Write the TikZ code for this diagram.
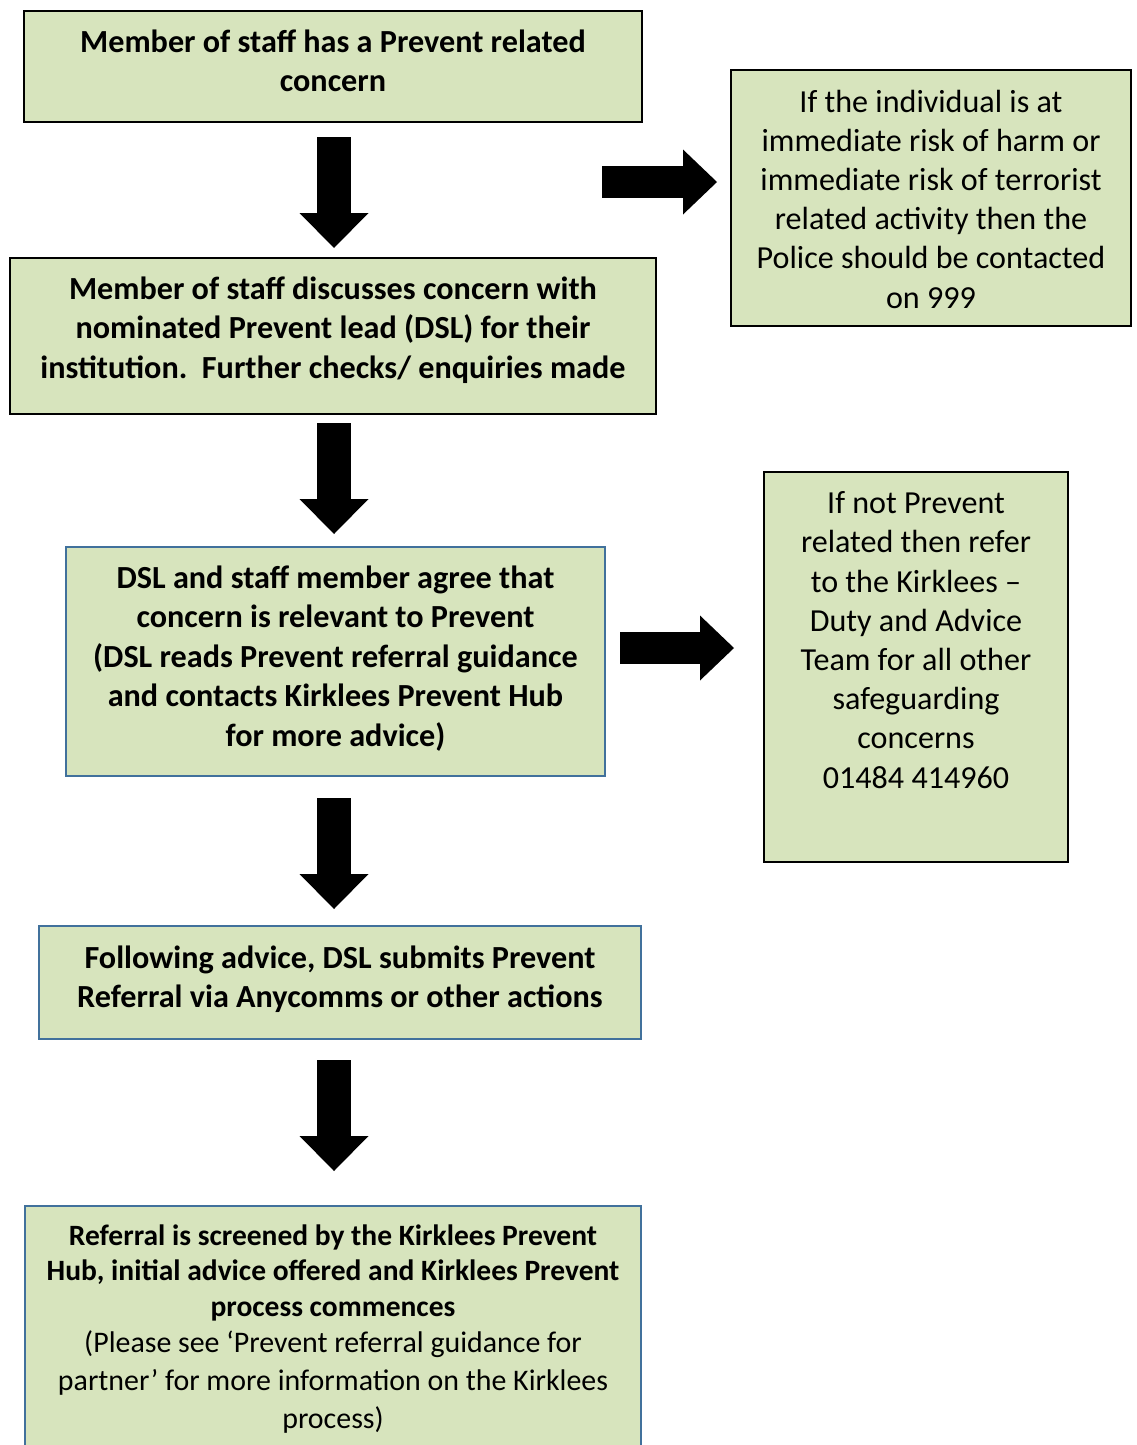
\documentclass[tikz,border=0pt]{standalone}
\usepackage{fontspec}
\setmainfont{Carlito}
\usetikzlibrary{arrows.meta}
\definecolor{boxgreen}{HTML}{D7E4BD}
\definecolor{boxblue}{HTML}{41719C}
\begin{document}
\begin{tikzpicture}[x=1pt,y=-1pt,
  box/.style={draw=black, fill=boxgreen, line width=1.2pt, inner sep=0pt},
  bluebox/.style={box, draw=boxblue},
  txt/.style={inner sep=0pt, align=center},
  bigb/.style={txt, font=\fontsize{32.2}{39.4}\selectfont\bfseries},
  bigr/.style={txt, font=\fontsize{32.1}{39.2}\selectfont},
  blockdown/.style={line width=34pt, -{Triangle[length=35pt,width=69pt,line width=0pt]}},
  blockright/.style={line width=32pt, -{Triangle[length=34pt,width=65pt,line width=0pt]}}
]
\useasboundingbox (0,0) rectangle (1136,1445);
\clip (0,0) rectangle (1136,1445);
\fill[white] (0,0) rectangle (1136,1445);

% main column boxes
\node[box, minimum width=618pt, minimum height=111pt] (b1) at (333,66.5) {};
\node[box, minimum width=646pt, minimum height=156pt] (b2) at (333,336) {};
\node[bluebox, minimum width=539pt, minimum height=229pt] (b3) at (335.5,661.5) {};
\node[bluebox, minimum width=602pt, minimum height=113pt] (b4) at (340,982.5) {};
\node[bluebox, minimum width=616pt, minimum height=259pt] (b5) at (333,1335.5) {};
% side boxes
\node[box, minimum width=400pt, minimum height=256pt] (r1) at (931,198) {};
\node[box, minimum width=304pt, minimum height=390pt] (r2) at (916,667) {};

% texts
\node[bigb] (b1t) at (333,61)
  {Member of staff has a Prevent related\\concern};
\node[bigb] (b2t) at (333,330)
  {Member of staff discusses concern with\\nominated Prevent lead (DSL) for their\\institution.\ \ Further checks/ enquiries made};
\node[bigb] (b3t) at (335.5,658.5)
  {DSL and staff member agree that\\concern is relevant to Prevent\\(DSL reads Prevent referral guidance\\and contacts Kirklees Prevent Hub\\for more advice)};
\node[bigb] (b4t) at (340,979.5)
  {Following advice, DSL submits Prevent\\Referral via Anycomms or other actions};
\node[txt, font=\fontsize{29.5}{35.5}\selectfont\bfseries] (b5a) at (333,1272.5)
  {Referral is screened by the Kirklees Prevent\\Hub, initial advice offered and Kirklees Prevent\\process commences};
\node[txt, font=\fontsize{29.9}{38}\selectfont] (b5b) at (333,1382)
  {(Please see ‘Prevent referral guidance for\\partner’ for more information on the Kirklees\\process)};
\node[bigr] (r1t) at (931,199)
  {If the individual is at\\immediate risk of harm or\\immediate risk of terrorist\\related activity then the\\Police should be contacted\\on 999};
\node[bigr] (r2t) at (916,640)
  {If not Prevent\\related then refer\\to the Kirklees –\\Duty and Advice\\Team for all other\\safeguarding\\concerns\\01484 414960};

% block arrows
\coordinate (a1s) at (334,137);  \coordinate (a1e) at (334,248);
\coordinate (a2s) at (334,423);  \coordinate (a2e) at (334,534);
\coordinate (a3s) at (334,798);  \coordinate (a3e) at (334,909);
\coordinate (a4s) at (334,1060); \coordinate (a4e) at (334,1171);
\coordinate (ra1s) at (602,182); \coordinate (ra1e) at (717,182);
\coordinate (ra2s) at (620,648); \coordinate (ra2e) at (734,648);
\draw[blockdown] (a1s) -- (a1e);
\draw[blockdown] (a2s) -- (a2e);
\draw[blockdown] (a3s) -- (a3e);
\draw[blockdown] (a4s) -- (a4e);
\draw[blockright] (ra1s) -- (ra1e);
\draw[blockright] (ra2s) -- (ra2e);
\end{tikzpicture}
\end{document}
